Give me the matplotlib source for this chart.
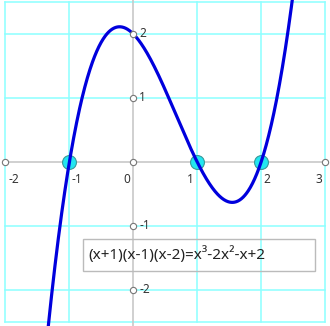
import numpy as np
import matplotlib
matplotlib.use("Agg")
import matplotlib.pyplot as plt
from matplotlib.patches import Rectangle

# Data
coeffs = [1, -2, -1, 2]          # x^3 - 2x^2 - x + 2
roots = [-1, 1, 2]
x_ticks = [-2, -1, 0, 1, 2, 3]
x_tick_labels = ["-2", "-1", "0", "1", "2", "3"]
y_ticks = [-2, -1, 1, 2]
y_tick_labels = ["-2", "-1", "1", "2"]
label_text = "(x+1)(x-1)(x-2)=x³-2x²-x+2"

plt.rcParams['font.family'] = ['Noto Sans', 'DejaVu Sans']

fig = plt.figure(figsize=(3.30, 3.26), dpi=100)
ax = fig.add_axes([0, 0, 1, 1])
ax.set_xlim(-2.086, 3.078)
ax.set_ylim(-2.5625, 2.531)
ax.axis('off')

grid_c = '#8cffff'
for gx in [-2, -1, 1, 2, 3]:
    ax.plot([gx, gx], [-2.5, 2.5], color=grid_c, lw=1.1, zorder=1)
for gy in [-2.5, -2, -1, 1, 2, 2.5]:
    ax.plot([-2, 3], [gy, gy], color=grid_c, lw=1.1, zorder=1)

# axes
axis_c = '#c8c8c8'
ax.plot([-2, 3], [0, 0], color=axis_c, lw=1.2, zorder=2)
ax.plot([0, 0], [-3, 3], color=axis_c, lw=1.2, zorder=2)

# root markers
ax.plot(roots, [0] * len(roots), 'o', ms=10, mfc='#22e5f0', mec='#3a9a9a',
        mew=0.8, zorder=4)

# curve
xs = np.linspace(-1.4, 2.6, 600)
ys = np.polyval(coeffs, xs)
ax.plot(xs, ys, color='#0000dd', lw=2.3, zorder=5, clip_on=True)

# tick circles
ax.plot(x_ticks, [0] * len(x_ticks), 'o', ms=4.5, mfc='white', mec='#777777',
        mew=0.8, zorder=3, clip_on=False)
ax.plot([0] * len(y_ticks), y_ticks, 'o', ms=4.5, mfc='white', mec='#777777',
        mew=0.8, zorder=6, clip_on=False)

# tick labels
for xv, lab in zip(x_ticks, x_tick_labels):
    if xv in (0, 1, 3):
        ax.text(xv - 0.05, -0.17, lab, fontsize=8.5, color='#333333', ha='right', va='top')
    else:
        ax.text(xv + 0.04, -0.17, lab, fontsize=8.5, color='#333333', ha='left', va='top')
for yv, lab in zip(y_ticks, y_tick_labels):
    ax.text(0.09, yv, lab, fontsize=8.5, color='#333333', ha='left', va='center')

# label box
box = Rectangle((-0.79, -1.7), 3.63, 0.5, fill=False, ec='#bbbbbb', lw=1.0, zorder=7)
ax.add_patch(box)
ax.text(-0.7, -1.45, label_text, fontsize=11, color='#222222', ha='left',
        va='center', zorder=8)

fig.savefig('out.png', dpi=100)
